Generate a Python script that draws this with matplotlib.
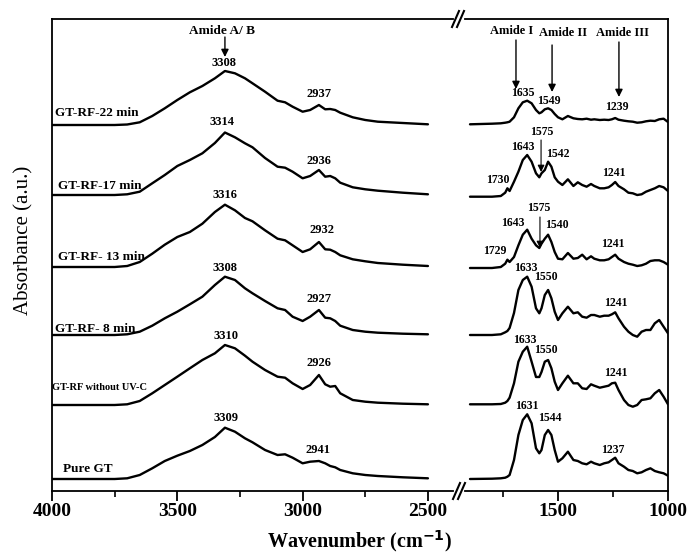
import matplotlib
matplotlib.use("Agg")
import matplotlib.pyplot as plt
from matplotlib.lines import Line2D

plt.rcParams['font.family'] = ['Liberation Serif', 'DejaVu Serif']

# ---------------- data (absorbance, arbitrary units, relative to each trace baseline)
wn_left = [4000, 3750, 3700, 3650, 3600, 3550, 3500, 3450, 3400, 3350, 3310, 3270, 3230,
           3200, 3150, 3100, 3070, 3040, 3000, 2970, 2935, 2910, 2890, 2870, 2850, 2800,
           2750, 2700, 2600, 2500]
wn_right = [1900, 1800, 1760, 1740, 1730, 1720, 1700, 1680, 1660, 1640, 1620, 1600, 1585,
            1575, 1560, 1545, 1530, 1515, 1500, 1480, 1455, 1430, 1410, 1390, 1370, 1350,
            1335, 1310, 1290, 1270, 1255, 1240, 1225, 1200, 1180, 1160, 1140, 1120, 1100,
            1080, 1060, 1040, 1020, 1000]

samples = ["GT-RF-22 min", "GT-RF-17 min", "GT-RF- 13 min", "GT-RF- 8 min",
           "GT-RF without UV-C", "Pure GT"]
offsets = [366, 296, 224, 156, 86, 12]

gt22_left = [0, 0, 0.5, 2.7, 9, 16.7, 25, 32.7, 39, 46.7, 54, 51.7, 46.7, 41.7, 33.3, 24.3,
             22.7, 18.3, 13.3, 15, 20, 15.7, 16, 15, 12.3, 7.7, 5, 3.3, 2, 0.7]
gt17_left = [0, 0, 0.7, 3.3, 11.7, 20, 29, 35, 41.7, 52, 62.5, 57.7, 51.7, 47.7, 37, 28.3,
             27.3, 23.3, 16.7, 19, 25, 18.3, 19, 16.7, 12.3, 7.7, 5.7, 4.3, 2.3, 0.7]
gt13_left = [0, 0, 1, 5, 13.3, 22.3, 30, 35, 43.3, 55, 62.3, 56.7, 49, 45.7, 36.7, 28.3,
             26.7, 21.7, 15, 17.7, 25, 17.7, 17.3, 15, 11.7, 7.7, 5.7, 4, 2.3, 1]
gt8_left = [0, 0, 0.7, 3.3, 9.3, 16.7, 23.3, 30.7, 38.3, 50, 58.3, 55, 46.7, 41.7, 34, 26.7,
            25, 18.3, 14, 18.3, 25, 17.3, 16.7, 14, 9.3, 5, 3.3, 2.3, 1.3, 0.7]
uv_left = [0, 0, 0.7, 4, 11.7, 20, 28.3, 36.7, 45, 51.7, 60, 56.7, 49.3, 43.3, 35, 28.3,
           27.3, 21.7, 16, 20, 30, 20.7, 18.3, 19, 11.7, 5, 3.3, 2.3, 1.3, 0.7]
pure_left = [0, 0, 0.7, 4, 10.7, 18, 23.3, 28, 34, 42, 51.3, 47.3, 40.7, 36.7, 29, 24,
             24.7, 21.3, 15.7, 17.3, 18, 15.7, 13, 11.7, 9, 5.7, 4, 3, 1.7, 0.7]

gt22_right = [0.7, 1.3, 1.7, 2.3, 2.7, 3.3, 7.7, 16.7, 22.7, 24.3, 21.7, 15, 11.7, 12.7,
              15.7, 16.7, 15, 11, 7.7, 5.7, 9, 6.7, 6, 5.7, 6.3, 5.3, 5.7, 5, 5.3, 5, 5.7,
              7, 5.3, 4.3, 3.7, 3.3, 2.3, 2.7, 3.7, 4.3, 4, 5.7, 6.3, 3]
gt17_right = [-1.7, -1.7, -1, 2.3, 6.7, 4, 13.3, 23.3, 35, 40, 33.3, 21.7, 17.7, 21.7, 25,
              33.3, 28.3, 17.7, 13.3, 10, 15.7, 9, 12.7, 10, 8.3, 11, 9, 6.7, 6.7, 7.7,
              10, 13, 9, 5.7, 2.3, 1.7, 0, 0.7, 3.3, 5, 6.7, 9, 7.7, 4]
gt13_right = [-1, -1, 0, 3.3, 7.3, 5, 10, 21.7, 32.3, 37.3, 28.3, 21.7, 19, 23.3, 28.3,
              32.3, 25, 15, 8.3, 7.7, 14, 8.3, 9, 12.3, 7.7, 10.7, 8.3, 6.7, 6.7, 7.7, 10,
              12.3, 8.3, 5, 3.3, 2.3, 1, 1.7, 3.3, 6, 6.7, 6.7, 5, 2.3]
gt8_right = [0, 0, 0.7, 2.7, 4, 7, 22, 45, 55, 58.3, 48.3, 26.7, 21.7, 26.7, 40, 45, 36.7,
             23.3, 15, 21.7, 28.3, 21.7, 22.7, 18.3, 17.3, 20, 20, 18.3, 19.3, 19.3, 20.7,
             22.7, 16.7, 8.3, 3.3, 0, -1.7, 3.3, 5, 5, 11.7, 15, 8.3, 1.7]
uv_right = [0.7, 0.7, 1, 2.3, 4, 7.3, 21.7, 43.3, 53.3, 58.3, 43.3, 28, 28, 33, 43.3, 45,
            36.7, 23.3, 15, 21.7, 29.3, 21.7, 21.7, 16.7, 16, 20.7, 19.3, 17.3, 18.3, 19.3,
            21.7, 22.3, 15, 5, 0, -1.7, 0, 5, 5.7, 6.7, 11.7, 15, 8.3, 0.7]
pure_right = [0, 0.3, 0.7, 1.3, 2.3, 4, 19, 44, 59, 64.7, 55.7, 30.7, 25.7, 29, 44, 49, 44,
              29, 17.3, 20.7, 27.3, 19, 18, 15.7, 14.7, 17.3, 15.7, 14, 15.7, 16.7, 19,
              21.3, 15.7, 12.3, 9, 8, 5.7, 6.7, 9, 10.7, 8, 6.7, 5.7, 3.3]

left_series = [gt22_left, gt17_left, gt13_left, gt8_left, uv_left, pure_left]
right_series = [gt22_right, gt17_right, gt13_right, gt8_right, uv_right, pure_right]

# peak labels: (text, wavenumber, y)
peaks_left = [("3308", 3314, 428), ("2937", 2935, 397),
              ("3314", 3322, 369), ("2936", 2935, 330),
              ("3316", 3310, 296), ("2932", 2923, 261),
              ("3308", 3310, 223), ("2927", 2935, 192),
              ("3310", 3306, 155), ("2926", 2935, 128),
              ("3309", 3306, 73), ("2941", 2939, 41)]
peaks_right = [("1635", 1659, 398), ("1549", 1541, 390), ("1239", 1232, 384),
               ("1575", 1573, 359), ("1643", 1659, 344), ("1542", 1500, 337),
               ("1730", 1773, 311), ("1241", 1245, 318),
               ("1575", 1586, 283), ("1643", 1705, 268), ("1540", 1505, 266),
               ("1729", 1786, 240), ("1241", 1250, 247),
               ("1633", 1645, 223), ("1550", 1555, 214), ("1241", 1236, 188),
               ("1633", 1650, 151), ("1550", 1555, 141), ("1241", 1236, 118),
               ("1631", 1641, 85), ("1544", 1536, 73), ("1237", 1250, 41)]
sample_label_pos = [(3988, 378), (3976, 305), (3976, 234), (3988, 162), (4000, 103), (3956, 22)]

# ---------------- figure
W, H = 692, 556
fig = plt.figure(figsize=(W / 100, H / 100), dpi=100)
ax1 = fig.add_axes([52 / W, 1 - 491 / H, 401 / W, 472 / H])
ax2 = fig.add_axes([464.5 / W, 1 - 491 / H, 203.5 / W, 472 / H])

for vals_l, vals_r, off in zip(left_series, right_series, offsets):
    ax1.plot(wn_left, [v + off for v in vals_l], color='black', lw=1.7,
             solid_joinstyle='round', solid_capstyle='round')
    ax2.plot(wn_right, [v + off for v in vals_r], color='black', lw=1.7,
             solid_joinstyle='round', solid_capstyle='round')

ax1.set_xlim(4000, 2400)
ax2.set_xlim(1925, 1000)
for ax in (ax1, ax2):
    ax.set_ylim(0, 472)
    ax.set_yticks([])
    for s in ax.spines.values():
        s.set_linewidth(1.3)
    ax.tick_params(axis='x', which='major', direction='out', length=7, width=1.3,
                   labelsize=14, pad=2)
    ax.tick_params(axis='x', which='minor', direction='out', length=4, width=1.2)
    ax.tick_params(axis='y', left=False, right=False)
ax1.spines['right'].set_visible(False)
ax2.spines['left'].set_visible(False)

ax1.set_xticks([4000, 3500, 3000, 2500])
ax1.set_xticks([3750, 3250, 2750], minor=True)
ax2.set_xticks([1500, 1000])
ax2.set_xticks([1750, 1250], minor=True)
for ax in (ax1, ax2):
    for lab in ax.get_xticklabels():
        lab.set_fontweight('bold')

tf = dict(fontsize=9, fontweight='bold', ha='center', va='center')
for t, x, y in peaks_left:
    ax1.text(x, y, t, **tf)
for t, x, y in peaks_right:
    ax2.text(x, y, t, **dict(tf, fontsize=8.5))
for name, (x, y) in zip(samples, sample_label_pos):
    fs = 7.5 if 'UV' in name else 9.5
    ax1.text(x, y, name, fontsize=fs, fontweight='bold', ha='left', va='center')

# band annotations
ax1.text(3322, 460, "Amide A/ B", fontsize=9.5, fontweight='bold', ha='center', va='center')
arw = dict(arrowstyle='-|>', color='black', lw=1.0, mutation_scale=11, shrinkA=0, shrinkB=0)
ax1.annotate('', xy=(3310, 434), xytext=(3310, 454), arrowprops=arw)
ax2.text(1709, 460, "Amide I", fontsize=9, fontweight='bold', ha='center', va='center')
ax2.text(1477, 458, "Amide II", fontsize=9, fontweight='bold', ha='center', va='center')
ax2.text(1205, 458, "Amide III", fontsize=9, fontweight='bold', ha='center', va='center')
ax2.annotate('', xy=(1691, 402), xytext=(1691, 451), arrowprops=arw)
ax2.annotate('', xy=(1527, 399), xytext=(1527, 446), arrowprops=arw)
ax2.annotate('', xy=(1223, 394), xytext=(1223, 449), arrowprops=arw)
arw2 = dict(arw, lw=0.8, mutation_scale=10)
ax2.annotate('', xy=(1577, 319), xytext=(1577, 351), arrowprops=arw2)
ax2.annotate('', xy=(1582, 243), xytext=(1582, 274), arrowprops=arw2)

# axis break marks
def fx(x):
    return x / W

def fy(y):
    return 1 - y / H

for (x0, y0, x1, y1) in [(452, 27, 459, 11), (457, 27, 464, 11),
                         (453, 499, 460, 483), (458, 499, 465, 483)]:
    fig.add_artist(Line2D([fx(x0), fx(x1)], [fy(y0), fy(y1)], color='black', lw=1.5,
                          transform=fig.transFigure))

fig.text(fx(359), fy(547), r"Wavenumber (cm$^{\mathbf{-1}}$)", fontsize=14.5,
         fontweight='bold', ha='center', va='baseline')
fig.text(fx(24), fy(240), "Absorbance (a.u.)", fontsize=15, rotation=90,
         ha='center', va='center')

fig.savefig("out.png", dpi=100)
